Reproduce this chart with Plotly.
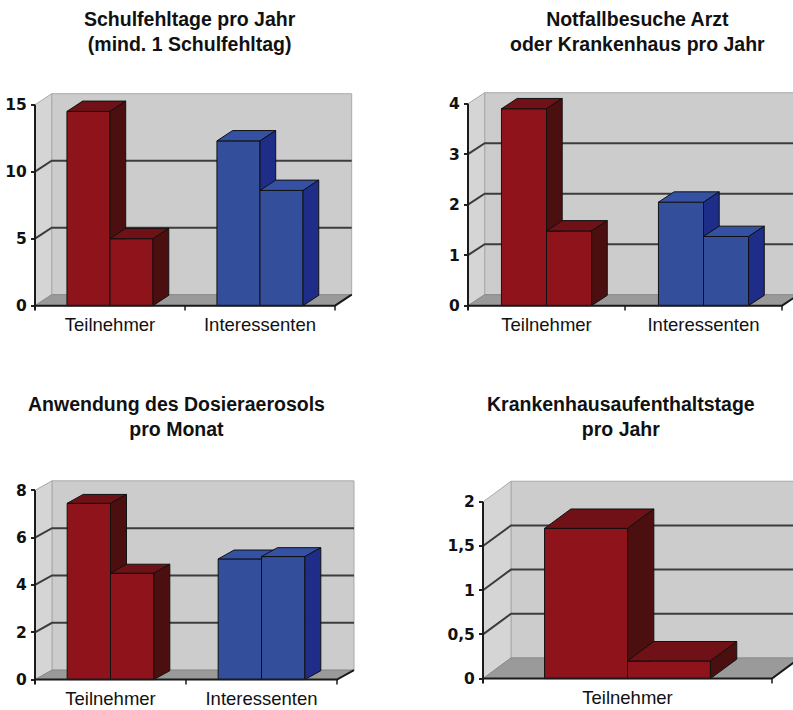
import plotly.graph_objects as go

FIG_W, FIG_H = 793, 710

# ---------------- data ----------------
titel_1 = "Schulfehltage pro Jahr<br>(mind. 1 Schulfehltag)"
titel_2 = "Notfallbesuche Arzt<br>oder Krankenhaus pro Jahr"
titel_3 = "Anwendung des Dosieraerosols<br>pro Monat"
titel_4 = "Krankenhausaufenthaltstage<br>pro Jahr"

kategorien_1 = ["Teilnehmer", "Interessenten"]
saeule_a_1 = [14.5, 12.3]
saeule_b_1 = [5.0, 8.6]
ticks_1 = [0, 5, 10, 15]
ticktext_1 = ["0", "5", "10", "15"]

kategorien_2 = ["Teilnehmer", "Interessenten"]
saeule_a_2 = [3.9, 2.05]
saeule_b_2 = [1.48, 1.37]
ticks_2 = [0, 1, 2, 3, 4]
ticktext_2 = ["0", "1", "2", "3", "4"]

kategorien_3 = ["Teilnehmer", "Interessenten"]
saeule_a_3 = [7.45, 5.1]
saeule_b_3 = [4.5, 5.2]
ticks_3 = [0, 2, 4, 6, 8]
ticktext_3 = ["0", "2", "4", "6", "8"]

kategorien_4 = ["Teilnehmer"]
saeule_a_4 = [1.7]
saeule_b_4 = [0.2]
ticks_4 = [0, 0.5, 1, 1.5, 2]
ticktext_4 = ["0", "0,5", "1", "1,5", "2"]

# ---------------- style / layout (pixels) ----------------
FARBEN = {
    "Teilnehmer": dict(front="#8e131b", top="#6f1116", side="#4c0f10"),
    "Interessenten": dict(front="#334f9c", top="#3551a4", side="#1e2d87"),
}
GEOM = [
    dict(ax=35, cw=150, y0=306.5, ytop=105, dx=16.7, dy=11, left=33, right=362, tx=190, ty=31.5),
    dict(ax=468, cw=157, y0=306.5, ytop=104, dx=16.7, dy=11, left=466, right=793, tx=637, ty=31.5),
    dict(ax=35, cw=151, y0=681.5, ytop=491.7, dx=17, dy=9.5, left=33, right=362, tx=176, ty=417.5),
    dict(ax=483, cw=289, y0=680.5, ytop=503.3, dx=28, dy=20.7, left=481, right=793, tx=621, ty=417.5),
]
GAP = 0.213
BW = 0.287
DEPTH = 0.94
NARROW = "Liberation Sans Narrow, Arial Narrow, Liberation Sans, Arial, sans-serif"

panels = [
    (titel_1, kategorien_1, saeule_a_1, saeule_b_1, ticks_1, ticktext_1),
    (titel_2, kategorien_2, saeule_a_2, saeule_b_2, ticks_2, ticktext_2),
    (titel_3, kategorien_3, saeule_a_3, saeule_b_3, ticks_3, ticktext_3),
    (titel_4, kategorien_4, saeule_a_4, saeule_b_4, ticks_4, ticktext_4),
]


def path(pts):
    return "M " + " L ".join(f"{x},{y}" for x, y in pts) + " Z"


def openpath(pts):
    return "M " + " L ".join(f"{x},{y}" for x, y in pts)


fig = go.Figure()
shapes = []
annotations = []
layout_axes = {}

for i, (titel, cats, sa, sb, tv, tt) in enumerate(panels):
    g = GEOM[i]
    sfx = "" if i == 0 else str(i + 1)
    xa, ya = "x" + sfx, "y" + sfx
    n = len(cats)
    ymax = max(tv)
    ppu = (g["y0"] - g["ytop"]) / ymax
    cw = g["cw"]
    ddx, ddy = g["dx"] / cw, g["dy"] / ppu
    bdx, bdy = DEPTH * ddx, DEPTH * ddy
    top_px = g["ytop"] - g["dy"] - 2
    bot_px = g["y0"] + 7
    xr = [(g["left"] - g["ax"]) / cw, (g["right"] - g["ax"]) / cw]
    yr = [(g["y0"] - bot_px) / ppu, (g["y0"] - top_px) / ppu]

    layout_axes["xaxis" + sfx] = dict(
        domain=[g["left"] / FIG_W, g["right"] / FIG_W], range=xr,
        anchor="free", position=1 - g["y0"] / FIG_H,
        tickvals=[k + 0.5 for k in range(n)], ticktext=cats, ticks="",
        ticklabelstandoff=6,
        tickfont=dict(family=NARROW, size=18.5, color="#111"),
        showgrid=False, zeroline=False, showline=False, fixedrange=True,
    )
    layout_axes["yaxis" + sfx] = dict(
        domain=[1 - bot_px / FIG_H, 1 - top_px / FIG_H], range=yr,
        anchor="free", position=g["ax"] / FIG_W,
        tickvals=tv, ticktext=tt, ticks="outside", ticklen=4, tickwidth=2,
        tickcolor="#222", ticklabelstandoff=1,
        tickfont=dict(family="DejaVu Sans", size=15.5, color="#111", weight="bold"),
        showgrid=False, zeroline=False, showline=False, fixedrange=True,
    )

    # walls and floor
    base = dict(xref=xa, yref=ya, layer="below")
    shapes.append(dict(type="rect", x0=ddx, x1=n + ddx, y0=ddy, y1=ymax + ddy,
                       fillcolor="#cccccc", line=dict(color="#a9a9a9", width=1), **base))
    shapes.append(dict(type="path", path=path([(0, 0), (ddx, ddy), (ddx, ymax + ddy), (0, ymax)]),
                       fillcolor="#d5d5d5", line=dict(color="#a9a9a9", width=1), **base))
    shapes.append(dict(type="path", path=path([(0, 0), (n, 0), (n + ddx, ddy), (ddx, ddy)]),
                       fillcolor="#9a9a9a", line=dict(color="#8a8a8a", width=1), **base))
    for v in tv[1:-1]:
        shapes.append(dict(type="path", path=openpath([(0, v), (ddx, v + ddy), (n + ddx, v + ddy)]),
                           line=dict(color="#3c3c3c", width=2), **base))
    # front axis lines and category ticks
    tick_d = 5 / ppu
    shapes.append(dict(type="path", path=openpath([(0, ymax), (0, -tick_d), ]),
                       line=dict(color="#1a1a1a", width=2), xref=xa, yref=ya, layer="above"))
    shapes.append(dict(type="path", path=openpath([(0, 0), (n, 0), (n + ddx, ddy)]),
                       line=dict(color="#1a1a1a", width=2), xref=xa, yref=ya, layer="above"))
    for k in range(1, n + 1):
        shapes.append(dict(type="line", x0=k, x1=k, y0=0, y1=-tick_d,
                           line=dict(color="#1a1a1a", width=1.5), xref=xa, yref=ya, layer="above"))

    # front faces as real bars
    for vals, off, name in ((sa, -BW, "Säule 1"), (sb, 0.0, "Säule 2")):
        fig.add_trace(go.Bar(
            x=[k + 0.5 for k in range(n)], y=vals, width=[BW] * n, offset=[off] * n,
            marker=dict(color=[FARBEN[c]["front"] for c in cats],
                        line=dict(color="#111", width=1)),
            name=name, hovertext=cats, showlegend=False,
            xaxis=xa, yaxis=ya,
        ))

    # 3-D top and side faces, painted left to right
    for k in range(n):
        col = FARBEN[cats[k]]
        bars = [(sa[k], k + 0.5 - BW, k + 0.5, sb[k]), (sb[k], k + 0.5, k + 0.5 + BW, None)]
        for h, L, R, hb in bars:
            # top face (clipped where the right neighbour's front is higher)
            if hb is not None and hb > h:
                if hb >= h + bdy:
                    top = [(L, h), (R, h), (R, h + bdy), (L + bdx, h + bdy)]
                else:
                    xs = R + (hb - h) / bdy * bdx
                    top = [(L, h), (R, h), (R, hb), (xs, hb), (R + bdx, h + bdy), (L + bdx, h + bdy)]
            else:
                top = [(L, h), (R, h), (R + bdx, h + bdy), (L + bdx, h + bdy)]
            tx, ty = zip(*(top + [top[0]]))
            fig.add_trace(go.Scatter(x=tx, y=ty, mode="lines", fill="toself", fillcolor=col["top"],
                                     line=dict(color="#111", width=1), hoverinfo="skip",
                                     showlegend=False, xaxis=xa, yaxis=ya))
            # side face (only part above right neighbour is visible)
            if hb is None or hb <= 0:
                lower = [(R, 0), (R + bdx, bdy)]
            elif hb >= h:
                lower = None
            else:
                kk = hb / bdy
                if kk >= 1:
                    lower = [(R, hb), (R + bdx, hb)]
                else:
                    lower = [(R, hb), (R + kk * bdx, hb), (R + bdx, bdy)]
            if lower is not None:
                side = lower + [(R + bdx, h + bdy), (R, h)]
                sx, sy = zip(*(side + [side[0]]))
                fig.add_trace(go.Scatter(x=sx, y=sy, mode="lines", fill="toself", fillcolor=col["side"],
                                         line=dict(color="#111", width=1), hoverinfo="skip",
                                         showlegend=False, xaxis=xa, yaxis=ya))

    annotations.append(dict(text="<b>" + titel + "</b>", xref="paper", yref="paper",
                            x=g["tx"] / FIG_W, y=1 - g["ty"] / FIG_H, xanchor="center",
                            yanchor="middle", showarrow=False, align="center",
                            font=dict(family=NARROW, size=19.5, color="#111")))

fig.update_layout(
    width=FIG_W, height=FIG_H, autosize=False,
    margin=dict(l=0, r=0, t=0, b=0),
    paper_bgcolor="white", plot_bgcolor="rgba(0,0,0,0)",
    barmode="overlay", showlegend=False,
    shapes=shapes, annotations=annotations,
    **layout_axes,
)

fig.write_html("out.html")
